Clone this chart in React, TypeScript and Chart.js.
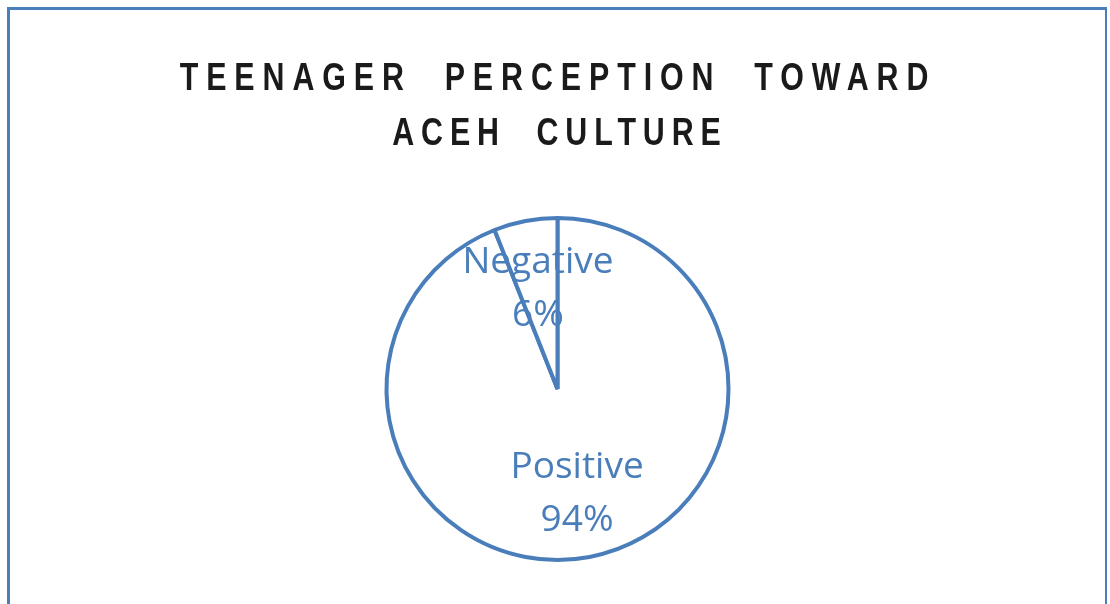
import React, { useEffect, useRef } from "react";
import { Chart, registerables } from "chart.js";

Chart.register(...registerables);

const titleLines = ["TEENAGER  PERCEPTION  TOWARD", "ACEH  CULTURE"];
const categories = ["Positive", "Negative"];
const values = [94, 6];

const BLUE = "#4a7ebb";

const titlePlugin = {
  id: "spacedTitle",
  afterDraw(chart: any) {
    const ctx = chart.ctx;
    const sx = 0.8;
    const spacings = [9.9, 8.6];
    const baselines = [90, 145];
    const centers = [554, 556.5];
    ctx.save();
    ctx.fillStyle = "#1a1a1a";
    ctx.font = 'bold 38px "Liberation Sans", Arial, sans-serif';
    ctx.textAlign = "center";
    ctx.textBaseline = "alphabetic";
    ctx.scale(sx, 1);
    titleLines.forEach((line, i) => {
      (ctx as any).letterSpacing = spacings[i] + "px";
      ctx.fillText(line, centers[i] / sx + spacings[i] / 2, baselines[i]);
    });
    ctx.restore();
  },
};

const labelPlugin = {
  id: "sliceLabels",
  afterDatasetsDraw(chart: any) {
    const ctx = chart.ctx;
    const meta = chart.getDatasetMeta(0);
    const data = chart.data.datasets[0].data as number[];
    const total = data.reduce((a, b) => a + b, 0);
    ctx.save();
    ctx.fillStyle = BLUE;
    ctx.font = '37px "Open Sans", sans-serif';
    ctx.textAlign = "center";
    ctx.textBaseline = "alphabetic";
    meta.data.forEach((arc: any, i: number) => {
      const { x, y, startAngle, endAngle, outerRadius } = arc.getProps(
        ["x", "y", "startAngle", "endAngle", "outerRadius"],
        true
      );
      const mid = (startAngle + endAngle) / 2;
      const r = outerRadius * 0.61;
      const cx = x + Math.cos(mid) * r;
      const cy = y + Math.sin(mid) * r;
      const pct = Math.round((data[i] / total) * 100) + "%";
      ctx.fillText(String(chart.data.labels[i]), cx, cy - 13.5);
      ctx.fillText(pct, cx, cy + 39.5);
    });
    ctx.restore();
  },
};

export default function App() {
  const ref = useRef<HTMLCanvasElement | null>(null);
  useEffect(() => {
    if (!ref.current) return;
    const chart = new Chart(ref.current, {
      type: "pie",
      data: {
        labels: categories,
        datasets: [
          {
            data: values,
            backgroundColor: "#ffffff",
            borderColor: BLUE,
            borderWidth: 4,
            hoverOffset: 0,
            radius: 171,
          } as any,
        ],
      },
      options: {
        animation: false,
        responsive: false,
        events: [],
        layout: { padding: { left: 357.5, right: 352.5, top: 189, bottom: 15 } },
        plugins: {
          legend: { display: false },
          title: { display: false },
          tooltip: { enabled: false },
        },
      },
      plugins: [titlePlugin, labelPlugin],
    });
    return () => chart.destroy();
  }, []);
  return (
    <div style={{ position: "absolute", left: 0, top: 0, width: 1110, height: 604, background: "#fff", overflow: "hidden" }}>
      <canvas ref={ref} width={1110} height={604} style={{ position: "absolute", left: 0, top: 0 }} />
      <div
        style={{
          position: "absolute",
          left: 7,
          top: 7,
          width: 1095,
          height: 610,
          borderLeft: `3px solid ${BLUE}`,
          borderTop: `3px solid ${BLUE}`,
          borderRight: `2px solid ${BLUE}`,
          pointerEvents: "none",
        }}
      />
    </div>
  );
}
